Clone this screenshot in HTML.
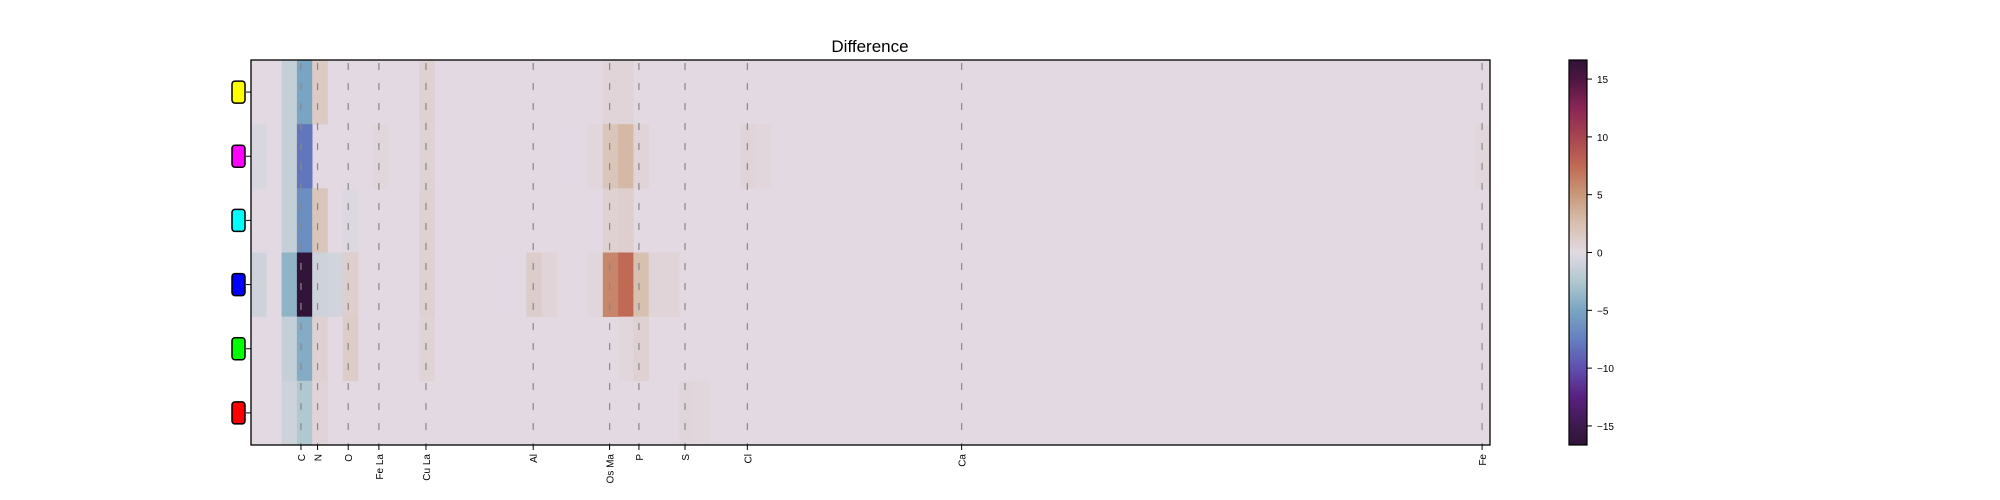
<!DOCTYPE html>
<html><head><meta charset="utf-8"><style>
html,body{margin:0;padding:0;background:#fff;}
svg{display:block;font-family:"Liberation Sans",sans-serif;}
</style></head><body>
<svg id="chart" width="2000" height="500" viewBox="0 0 2000 500">
<text x="870" y="52" text-anchor="middle" font-size="17">Difference</text>
<g id="cells"></g>
<g id="dashes"></g>
<rect x="251" y="60" width="1239" height="385" fill="none" stroke="#000" stroke-width="1.3"/>
<g id="xaxis"></g>
<g id="yaxis"></g>
<g id="cbar"></g>
</svg>
<script>
// ---- data ----
const rowColors = ['#ffff00','#ff00ff','#00ffff','#0000ff','#00ff00','#ff0000'];
const nCols = 81;
// sparse non-zero values per row: [columnIndex, value]
const rowYellow  = [[2,-1.5],[3,-5],[4,1.5],[11,0.8],[23,0.5],[24,0.5]];
const rowMagenta = [[0,-0.5],[2,-1.5],[3,-8],[8,0.3],[11,0.7],[22,0.3],[23,2],[24,3],[25,0.5],[32,0.5],[33,0.3],[80,0.3]];
const rowCyan    = [[2,-1.5],[3,-6.5],[4,2],[6,-0.3],[11,0.8],[23,0.8],[24,1]];
const rowBlue    = [[0,-1],[2,-4],[3,-16.5],[4,-1],[5,-0.8],[6,1],[11,0.8],[18,1.2],[19,0.5],[22,0.3],[23,6],[24,7.5],[25,2.5],[26,0.5],[27,0.5]];
const rowGreen   = [[2,-1.5],[3,-4.5],[4,0.8],[6,1.3],[11,0.6],[24,0.3],[25,0.8]];
const rowRed     = [[2,-1],[3,-2.5],[4,0.5],[28,0.4],[29,0.3]];
const rows = [rowYellow,rowMagenta,rowCyan,rowBlue,rowGreen,rowRed];
const elemLabels = ['C','N','O','Fe La','Cu La','Al','Os Ma','P','S','Cl','Ca','Fe'];
const elemEnergies = [0.277,0.363,0.522,0.681,0.925,1.481,1.877,2.029,2.268,2.591,3.702,6.40];
const cbarTicks = [15,10,5,0,-5,-10,-15];
const vmax = 16.65;

// ---- layout ----
const X0=251, X1=1490, Y0=60, Y1=445;
const cellW=(X1-X0)/nCols, rowH=(Y1-Y0)/rows.length;
const xE = e => X0 + (e-0.018)*192.9;
const NS='http://www.w3.org/2000/svg';
function mk(tag, attrs, parent){const el=document.createElementNS(NS,tag);for(const k in attrs)el.setAttribute(k,attrs[k]);parent.appendChild(el);return el;}

const stops=[[-1,[47,20,54]],[-0.9,[60,26,78]],[-0.75,[90,32,128]],[-0.6,[96,79,174]],[-0.45,[99,128,192]],[-0.3,[122,165,194]],[-0.15,[176,200,208]],[0,[226,217,226]],[0.15,[216,192,176]],[0.3,[201,153,122]],[0.45,[192,106,85]],[0.6,[168,69,79]],[0.75,[138,38,87]],[0.9,[77,21,64]],[1,[47,20,54]]];
function cmap(v){let t=Math.max(-1,Math.min(1,v/vmax));for(let i=0;i<stops.length-1;i++){const a=stops[i],b=stops[i+1];if(t<=b[0]){const f=(t-a[0])/(b[0]-a[0]);const c=a[1].map((x,j)=>Math.round(x+(b[1][j]-x)*f));return `rgb(${c})`;}}return 'rgb(47,20,54)';}

// cells
const cg=document.getElementById('cells');
let bg=mk('rect',{x:X0,y:Y0,width:X1-X0,height:Y1-Y0,fill:cmap(0)},cg);


rows.forEach((r,ri)=>{r.forEach(([c,v])=>{
  const el=mk('rect',{x:X0+c*cellW,y:Y0+ri*rowH,width:cellW+0.3,height:rowH+0.3,fill:cmap(v)},cg);
  
  
});});

// dashed lines and x ticks
const dg=document.getElementById('dashes'), xg=document.getElementById('xaxis');
elemLabels.forEach((lab,i)=>{
  const x=xE(elemEnergies[i]);
  const ln=mk('line',{x1:x,y1:Y0,x2:x,y2:Y1,stroke:'#888','stroke-width':1.2,'stroke-dasharray':'7,13','stroke-dashoffset':'-3'},dg);
  
  
  const tk=mk('line',{x1:x,y1:Y1,x2:x,y2:Y1+5,stroke:'#000','stroke-width':1},xg);
  
  
  const t=mk('text',{x:0,y:0,transform:`translate(${x+4},${Y1+9}) rotate(-90)`,'text-anchor':'end','font-size':10},xg);
  t.textContent=lab;
  
  
});

// y ticks with colour markers
const yg=document.getElementById('yaxis');
rowColors.forEach((col,i)=>{
  const y=Y0+(i+0.5)*rowH;
  const tk=mk('line',{x1:X0-5,y1:y,x2:X0,y2:y,stroke:'#000','stroke-width':1},yg);
  
  
  const m=mk('rect',{x:232,y:y-11,width:13,height:22,rx:3,fill:col,stroke:'#000','stroke-width':1.5},yg);
  
  
});

// colorbar
const cb=document.getElementById('cbar');
const CX=1569, CW=18, CY0=60, CY1=445, N=150;
for(let i=0;i<N;i++){
  const v=vmax-(i+0.5)*(2*vmax/N);
  const r=mk('rect',{x:CX,y:CY0+i*(CY1-CY0)/N,width:CW,height:(CY1-CY0)/N+0.5,fill:cmap(v)},cb);
  
  
}
const fr=mk('rect',{x:CX,y:CY0,width:CW,height:CY1-CY0,fill:'none',stroke:'#000','stroke-width':1.2},cb);


cbarTicks.forEach(v=>{
  const y=CY0+(vmax-v)/(2*vmax)*(CY1-CY0);
  const tk=mk('line',{x1:CX+CW,y1:y,x2:CX+CW+5,y2:y,stroke:'#000','stroke-width':1},cb);
  
  
  const t=mk('text',{x:CX+CW+10,y:y+4,'font-size':10},cb);
  t.textContent=v<0?'\u2212'+Math.abs(v):String(v);
  
  
});
</script>
</body></html>
